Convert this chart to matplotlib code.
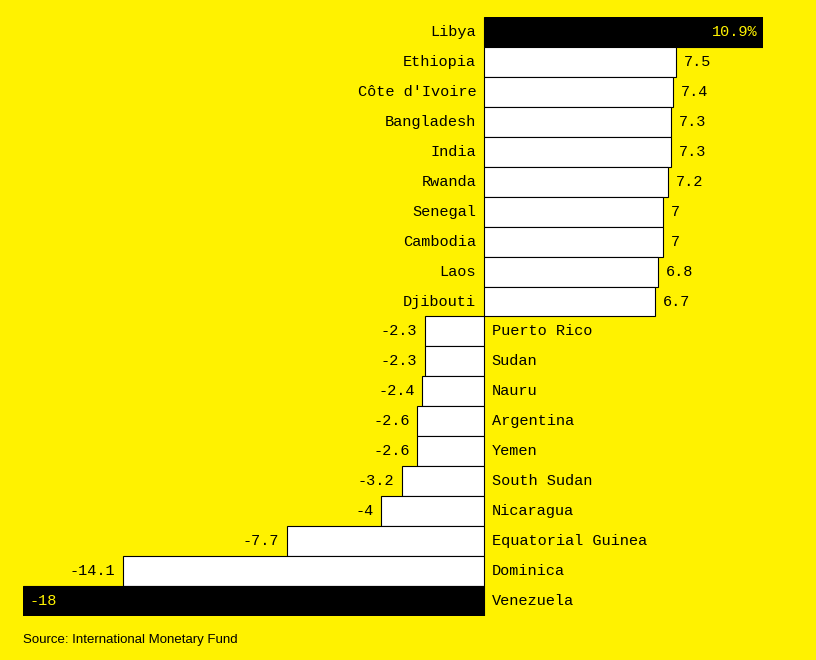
import matplotlib.pyplot as plt

countries = ["Libya", "Ethiopia", "Côte d'Ivoire", "Bangladesh", "India", "Rwanda",
             "Senegal", "Cambodia", "Laos", "Djibouti", "Puerto Rico", "Sudan", "Nauru",
             "Argentina", "Yemen", "South Sudan", "Nicaragua", "Equatorial Guinea",
             "Dominica", "Venezuela"]
growth = [10.9, 7.5, 7.4, 7.3, 7.3, 7.2, 7, 7, 6.8, 6.7,
          -2.3, -2.3, -2.4, -2.6, -2.6, -3.2, -4, -7.7, -14.1, -18]
value_labels = ["10.9%", "7.5", "7.4", "7.3", "7.3", "7.2", "7", "7", "6.8", "6.7",
                "-2.3", "-2.3", "-2.4", "-2.6", "-2.6", "-3.2", "-4", "-7.7", "-14.1", "-18"]

yellow = "#FFF200"
mono = "Liberation Mono"

fig = plt.figure(figsize=(8.16, 6.6), dpi=100, facecolor=yellow)
ax = fig.add_axes([23 / 816, 1 - 616 / 660, 740 / 816, 599 / 660])
ax.set_facecolor(yellow)

ypos = list(range(len(countries)))
colors = ["black" if i in (0, len(countries) - 1) else "white" for i in ypos]
ax.barh(ypos, growth, height=1.0, color=colors, edgecolor="black", linewidth=0.8)

ax.set_xlim(-18, 10.9)
ax.set_ylim(len(countries) - 0.5, -0.5)
ax.axis("off")

for i, (name, v, lab) in enumerate(zip(countries, growth, value_labels)):
    if v > 0:
        ax.text(-0.3, i, name, ha="right", va="center", fontsize=11, family=mono)
        if i == 0:
            ax.text(v - 0.2, i, lab, ha="right", va="center", fontsize=11,
                    family=mono, color=yellow)
        else:
            ax.text(v + 0.3, i, lab, ha="left", va="center", fontsize=11, family=mono)
    else:
        ax.text(0.3, i, name, ha="left", va="center", fontsize=11, family=mono)
        if i == len(countries) - 1:
            ax.text(v + 0.25, i, lab, ha="left", va="center", fontsize=11,
                    family=mono, color=yellow)
        else:
            ax.text(v - 0.3, i, lab, ha="right", va="center", fontsize=11, family=mono)

fig.text(23 / 816, 1 - 640 / 660, "Source: International Monetary Fund",
         fontsize=9.5, family="Liberation Sans", ha="left", va="center")

fig.savefig("out.png", dpi=100, facecolor=yellow)
